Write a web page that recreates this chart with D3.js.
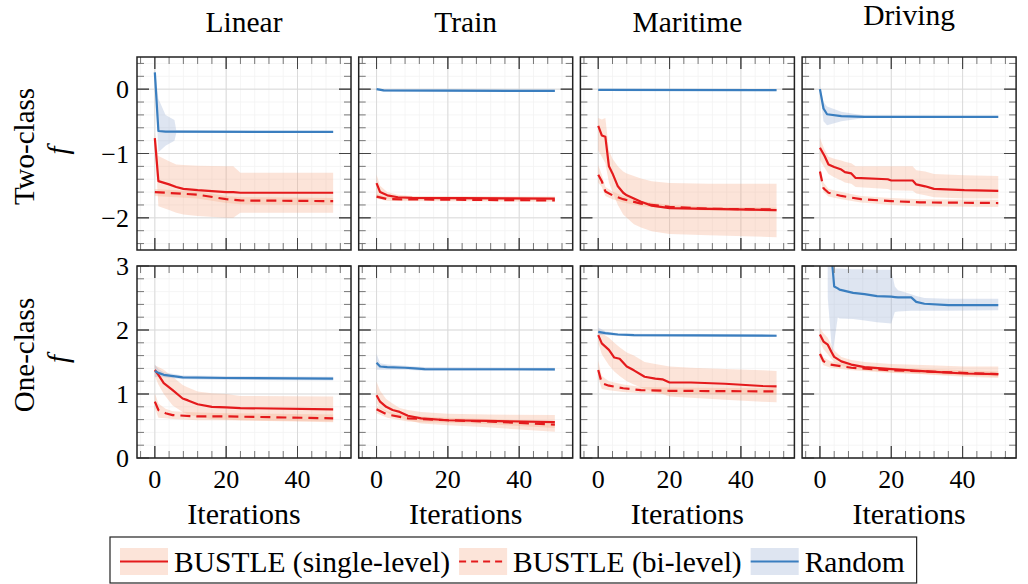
<!DOCTYPE html>
<html>
<head>
<meta charset="utf-8">
<script src="https://cdn.jsdelivr.net/npm/d3@7/dist/d3.min.js"></script>
<style>
body { margin: 0; background: #fff; }
text { font-family: "Liberation Serif", "DejaVu Serif", serif; fill: #000; }
</style>
</head>
<body>
<svg id="chart" width="1028" height="584"></svg>
<script>
// column titles, row labels, ticks
var datasets = ["Linear", "Train", "Maritime", "Driving"];
var rowLabels = ["Two-class", "One-class"];
var xTicks = [0, 20, 40];
var yTicksTwo = [-2, -1, 0];
var yTicksOne = [0, 1, 2, 3];
var legendNames = ["BUSTLE (single-level)", "BUSTLE (bi-level)", "Random"];

// rows: [iteration, mean, lower, upper]
var linearTwoSingle = [[0,-0.76,-0.85,-0.68],[1,-1.43,-1.82,-1.04],[4,-1.48,-1.88,-1.12],[6,-1.52,-1.92,-1.17],[8,-1.55,-1.95,-1.18],[12,-1.57,-1.97,-1.19],[20,-1.60,-2.0,-1.2],[22,-1.60,-2.0,-1.2],[24,-1.61,-1.92,-1.30],[50,-1.61,-1.92,-1.30]];
var linearTwoBi = [[0,-1.60,-1.66,-1.55],[12,-1.64,-1.70,-1.59],[20,-1.71,-1.77,-1.66],[24,-1.73,-1.79,-1.68],[50,-1.74,-1.80,-1.69]];
var linearTwoRandom = [[0,0.26,0.22,0.30],[1,-0.65,-0.98,-0.15],[3,-0.66,-0.88,-0.40],[5.5,-0.66,-0.80,-0.48],[6,-0.66,-0.68,-0.64],[50,-0.665,-0.68,-0.65]];

var trainTwoSingle = [[0,-1.46,-1.70,-1.33],[1,-1.60,-1.68,-1.50],[3,-1.65,-1.70,-1.60],[6,-1.68,-1.72,-1.64],[10,-1.69,-1.72,-1.66],[50,-1.70,-1.73,-1.67]];
var trainTwoBi = [[0,-1.67,-1.70,-1.63],[3,-1.71,-1.74,-1.68],[50,-1.73,-1.75,-1.71]];
var trainTwoRandom = [[0,0.0,-0.01,0.01],[2,-0.02,-0.04,0.0],[50,-0.027,-0.045,-0.01]];

var maritimeTwoSingle = [[0,-0.57,-0.95,-0.45],[1,-0.72,-1.05,-0.47],[2,-0.74,-1.15,-0.45],[3,-1.20,-1.45,-0.95],[4,-1.31,-1.60,-1.08],[5.5,-1.51,-1.80,-1.20],[7,-1.61,-1.95,-1.28],[8,-1.65,-2.00,-1.31],[10,-1.70,-2.10,-1.35],[12,-1.75,-2.15,-1.39],[15,-1.81,-2.21,-1.43],[20,-1.85,-2.25,-1.46],[31,-1.86,-2.27,-1.47],[50,-1.88,-2.30,-1.47]];
var maritimeTwoBi = [[0,-1.33,-1.45,-1.18],[1,-1.43,-1.52,-1.33],[2,-1.59,-1.66,-1.52],[4,-1.65,-1.71,-1.59],[7,-1.71,-1.76,-1.66],[12,-1.78,-1.82,-1.74],[20,-1.83,-1.86,-1.80],[31,-1.86,-1.89,-1.83],[50,-1.87,-1.90,-1.84]];
var maritimeTwoRandom = [[0,-0.01,-0.02,0.0],[50,-0.015,-0.025,-0.005]];

var drivingTwoSingle = [[0,-0.91,-1.10,-0.76],[1.3,-1.04,-1.22,-0.94],[2.4,-1.17,-1.32,-1.05],[4,-1.21,-1.37,-1.08],[6,-1.25,-1.42,-1.11],[7,-1.29,-1.45,-1.13],[8.8,-1.31,-1.47,-1.15],[10,-1.38,-1.52,-1.20],[19,-1.40,-1.55,-1.20],[20,-1.42,-1.57,-1.20],[26,-1.42,-1.58,-1.20],[27,-1.48,-1.62,-1.26],[29.5,-1.51,-1.65,-1.28],[32,-1.55,-1.68,-1.32],[40.5,-1.57,-1.70,-1.34],[50,-1.58,-1.70,-1.35]];
var drivingTwoBi = [[0,-1.28,-1.36,-1.20],[1,-1.54,-1.60,-1.45],[2.4,-1.61,-1.67,-1.55],[6,-1.66,-1.71,-1.60],[11.5,-1.71,-1.76,-1.66],[20,-1.74,-1.80,-1.69],[28,-1.76,-1.82,-1.71],[50,-1.77,-1.83,-1.72]];
var drivingTwoRandom = [[0,0.0,-0.02,0.05],[1,-0.30,-0.50,-0.20],[2,-0.39,-0.56,-0.27],[6,-0.42,-0.50,-0.35],[12.5,-0.43,-0.45,-0.41],[50,-0.43,-0.44,-0.42]];

var linearOneSingle = [[0,1.375,1.28,1.45],[1,1.30,1.15,1.42],[2.5,1.17,1.00,1.38],[5,1.06,0.82,1.27],[7.8,0.93,0.72,1.14],[9.3,0.90,0.68,1.10],[12,0.84,0.64,1.04],[16,0.80,0.61,1.01],[20,0.79,0.60,1.00],[24,0.78,0.59,0.97],[50,0.76,0.57,0.96]];
var linearOneBi = [[0,0.88,0.78,1.01],[1,0.75,0.63,0.85],[3,0.70,0.62,0.77],[5,0.67,0.61,0.73],[12,0.65,0.59,0.71],[20,0.65,0.59,0.70],[50,0.62,0.56,0.68]];
var linearOneRandom = [[0,1.36,1.26,1.46],[1,1.33,1.27,1.39],[2.5,1.30,1.26,1.34],[7.8,1.26,1.23,1.29],[20,1.25,1.22,1.28],[50,1.24,1.21,1.27]];

var trainOneSingle = [[0,0.98,0.85,1.19],[1,0.88,0.78,1.05],[2.7,0.80,0.72,0.92],[4.5,0.75,0.67,0.85],[6.5,0.72,0.63,0.78],[8.8,0.66,0.59,0.75],[12.5,0.62,0.54,0.72],[20,0.59,0.51,0.69],[31,0.58,0.48,0.68],[50,0.56,0.41,0.67]];
var trainOneBi = [[0,0.76,0.70,0.82],[3,0.68,0.63,0.73],[8.8,0.62,0.57,0.66],[12.5,0.61,0.56,0.65],[20,0.59,0.55,0.63],[31,0.57,0.53,0.61],[40,0.55,0.50,0.59],[50,0.52,0.47,0.57]];
var trainOneRandom = [[0,1.49,1.38,1.63],[1,1.43,1.38,1.48],[3,1.42,1.38,1.46],[8,1.41,1.38,1.44],[10.7,1.40,1.37,1.43],[13.5,1.39,1.36,1.42],[50,1.385,1.36,1.41]];

var maritimeOneSingle = [[0,1.92,1.80,2.02],[1,1.79,1.62,1.95],[3,1.69,1.45,1.88],[4.5,1.57,1.35,1.80],[6,1.55,1.28,1.73],[8,1.43,1.20,1.65],[10,1.37,1.15,1.60],[13,1.27,1.08,1.50],[16,1.24,1.03,1.47],[18,1.23,1.00,1.45],[20,1.18,0.96,1.43],[26,1.18,0.94,1.41],[35.5,1.16,0.91,1.39],[46,1.125,0.88,1.37],[50,1.12,0.87,1.36]];
var maritimeOneBi = [[0,1.375,1.25,1.52],[1,1.17,1.08,1.28],[3,1.13,1.06,1.20],[7,1.09,1.03,1.15],[12,1.06,1.01,1.11],[20,1.05,1.00,1.10],[50,1.04,0.99,1.09]];
var maritimeOneRandom = [[0,1.97,1.92,2.04],[2,1.95,1.92,1.98],[5.5,1.93,1.91,1.95],[10,1.92,1.90,1.94],[50,1.91,1.89,1.93]];

var drivingOneSingle = [[0,1.93,1.82,2.03],[1,1.82,1.70,1.95],[2.2,1.77,1.62,1.88],[3.2,1.66,1.55,1.76],[4,1.58,1.50,1.68],[6,1.51,1.44,1.58],[8.8,1.46,1.40,1.53],[12.5,1.42,1.37,1.50],[20,1.39,1.34,1.47],[31,1.35,1.30,1.45],[40.5,1.32,1.27,1.43],[50,1.31,1.25,1.43]];
var drivingOneBi = [[0,1.625,1.55,1.70],[1,1.51,1.45,1.57],[3,1.46,1.41,1.51],[8.8,1.41,1.37,1.45],[20,1.37,1.33,1.41],[31,1.35,1.31,1.39],[50,1.31,1.27,1.35]];
var drivingOneRandom = [[0,7.5,7.5,7.5],[2,5.6,5.6,5.6],[2.2,5.2,2.5,6.5],[3.2,3.3,1.8,4.0],[3.5,3.0,1.6,2.96],[4,2.68,1.8,2.96],[5,2.65,2.2,2.96],[5.5,2.63,2.18,2.96],[9.3,2.58,2.17,2.95],[12.5,2.56,2.15,2.95],[16,2.53,2.12,2.94],[20,2.52,2.10,2.94],[21,2.515,2.28,2.68],[21.9,2.51,2.29,2.62],[25.6,2.51,2.30,2.56],[27,2.44,2.30,2.53],[29.3,2.41,2.30,2.50],[36,2.39,2.30,2.49],[50,2.39,2.31,2.49]];

var panels = [
    [linearTwoSingle, linearTwoBi, linearTwoRandom],
    [trainTwoSingle, trainTwoBi, trainTwoRandom],
    [maritimeTwoSingle, maritimeTwoBi, maritimeTwoRandom],
    [drivingTwoSingle, drivingTwoBi, drivingTwoRandom],
    [linearOneSingle, linearOneBi, linearOneRandom],
    [trainOneSingle, trainOneBi, trainOneRandom],
    [maritimeOneSingle, maritimeOneBi, maritimeOneRandom],
    [drivingOneSingle, drivingOneBi, drivingOneRandom]
];

var lineColors = ["#e41a1c", "#e41a1c", "#3a7ebf"];
var bandColors = ["#f4a582", "#f4a582", "#92a8d1"];
var dashes = [null, "10,6", null];

var svg = d3.select("#chart");
var panelW = 214, step = 221.7, left0 = 137;
var rowTop = [57, 266], rowH = [193, 192];

var xScale = d3.scaleLinear().domain([-5, 55]).range([0, panelW]);
var yScales = [
    d3.scaleLinear().domain([-2.5, 0.5]).range([rowH[0], 0]),
    d3.scaleLinear().domain([0, 3]).range([rowH[1], 0])
];
var yTicks = [yTicksTwo, yTicksOne];
var yMinor = [d3.range(-12, 3).map(function(v) { return v / 5; }), d3.range(1, 15).map(function(v) { return v / 5; })];
var xMinor = d3.range(-4, 53, 4);

var fmt = function(v) { return v < 0 ? "\u2212" + Math.abs(v) : String(v); };

panels.forEach(function(ser, i) {
    var col = i % 4, row = Math.floor(i / 4);
    var y = yScales[row], h = rowH[row];
    var g = svg.append("g").attr("transform", "translate(" + (left0 + col * step) + "," + rowTop[row] + ")");

    g.append("clipPath").attr("id", "clip" + i)
        .append("rect").attr("width", panelW).attr("height", h);

    // grid
    g.selectAll(".gxm").data(xMinor).enter().append("line")
        .attr("x1", xScale).attr("x2", xScale).attr("y1", 0).attr("y2", h)
        .attr("stroke", "#f2f2f2").attr("stroke-width", 0.8);
    g.selectAll(".gym").data(yMinor[row]).enter().append("line")
        .attr("y1", y).attr("y2", y).attr("x1", 0).attr("x2", panelW)
        .attr("stroke", "#f2f2f2").attr("stroke-width", 0.8);
    g.selectAll(".gx").data(xTicks).enter().append("line")
        .attr("x1", xScale).attr("x2", xScale).attr("y1", 0).attr("y2", h)
        .attr("stroke", "#dadada").attr("stroke-width", 1);
    g.selectAll(".gy").data(yTicks[row]).enter().append("line")
        .attr("y1", y).attr("y2", y).attr("x1", 0).attr("x2", panelW)
        .attr("stroke", "#dadada").attr("stroke-width", 1);

    var plot = g.append("g").attr("clip-path", "url(#clip" + i + ")");

    var area = d3.area()
        .x(function(d) { return xScale(d[0]); })
        .y0(function(d) { return y(d[2]); })
        .y1(function(d) { return y(d[3]); });
    var line = d3.line()
        .x(function(d) { return xScale(d[0]); })
        .y(function(d) { return y(d[1]); });

    ser.forEach(function(s, k) {
        plot.append("path").datum(s).attr("d", area)
            .attr("fill", bandColors[k]).attr("fill-opacity", 0.3).attr("stroke", "none");
    });
    ser.forEach(function(s, k) {
        plot.append("path").datum(s).attr("d", line)
            .attr("fill", "none").attr("stroke", lineColors[k])
            .attr("stroke-width", 2.2).attr("stroke-dasharray", dashes[k])
            .attr("stroke-linejoin", "round");
    });

    // ticks on all four sides, pointing in
    var tk = g.append("g").attr("stroke-width", 1);
    xMinor.concat(xTicks).forEach(function(v) {
        var major = xTicks.indexOf(v) >= 0;
        var len = major ? 12 : 7;
        tk.append("line").attr("x1", xScale(v)).attr("x2", xScale(v)).attr("y1", h).attr("y2", h - len).attr("stroke", major ? "#444" : "#777");
        tk.append("line").attr("x1", xScale(v)).attr("x2", xScale(v)).attr("y1", 0).attr("y2", len).attr("stroke", major ? "#444" : "#777");
    });
    yMinor[row].concat(yTicks[row]).forEach(function(v) {
        var major = yTicks[row].indexOf(v) >= 0;
        var len = major ? 12 : 7;
        tk.append("line").attr("y1", y(v)).attr("y2", y(v)).attr("x1", 0).attr("x2", len).attr("stroke", major ? "#444" : "#777");
        tk.append("line").attr("y1", y(v)).attr("y2", y(v)).attr("x1", panelW).attr("x2", panelW - len).attr("stroke", major ? "#444" : "#777");
    });

    g.append("rect").attr("width", panelW).attr("height", h)
        .attr("fill", "none").attr("stroke", "#222").attr("stroke-width", 1.5);

    if (row === 0) {
        g.append("text").text(datasets[col])
            .attr("x", panelW / 2).attr("y", /[gjpqy]/.test(datasets[col]) ? -32 : -25)
            .attr("text-anchor", "middle").style("font-size", "29.5px");
    }
    if (row === 1) {
        g.selectAll(".xl").data(xTicks).enter().append("text")
            .text(fmt).attr("x", xScale).attr("y", h + 30)
            .attr("text-anchor", "middle").style("font-size", "26px");
        g.append("text").text("Iterations")
            .attr("x", panelW / 2).attr("y", h + 66)
            .attr("text-anchor", "middle").style("font-size", "30px");
    }
    if (col === 0) {
        g.selectAll(".yl").data(yTicks[row]).enter().append("text")
            .text(fmt).attr("x", -8).attr("y", y)
            .attr("dy", "0.35em").attr("text-anchor", "end").style("font-size", "26px");
        var cy = h / 2 - 7;
        g.append("text").text(rowLabels[row])
            .attr("transform", "translate(" + (34 - left0) + "," + cy + ") rotate(-90)")
            .attr("text-anchor", "middle").style("font-size", "29px");
        g.append("text").text("f")
            .attr("transform", "translate(" + (68 - left0) + "," + (cy + 4) + ") rotate(-90)")
            .attr("text-anchor", "middle").style("font-size", "29px").style("font-style", "italic");
    }
});

// legend
var legend = svg.append("g");
var box = legend.append("rect").attr("x", 110).attr("y", 537).attr("height", 46)
    .attr("fill", "#fff").attr("stroke", "#222").attr("stroke-width", 1.2);
var lx = 120;
legendNames.forEach(function(name, k) {
    legend.append("rect").attr("x", lx).attr("y", 548).attr("width", 48).attr("height", 27)
        .attr("fill", bandColors[k]).attr("fill-opacity", 0.3);
    legend.append("line").attr("x1", lx).attr("x2", lx + 48).attr("y1", 561.5).attr("y2", 561.5)
        .attr("stroke", lineColors[k]).attr("stroke-width", 2).attr("stroke-dasharray", dashes[k] ? "7,5" : null);
    var t = legend.append("text").text(name).attr("x", lx + 54).attr("y", 571.5).style("font-size", "29.5px");
    lx += 54 + t.node().getComputedTextLength() + 9;
});
box.attr("width", lx - 9 + 12 - 110);
</script>
</body>
</html>
